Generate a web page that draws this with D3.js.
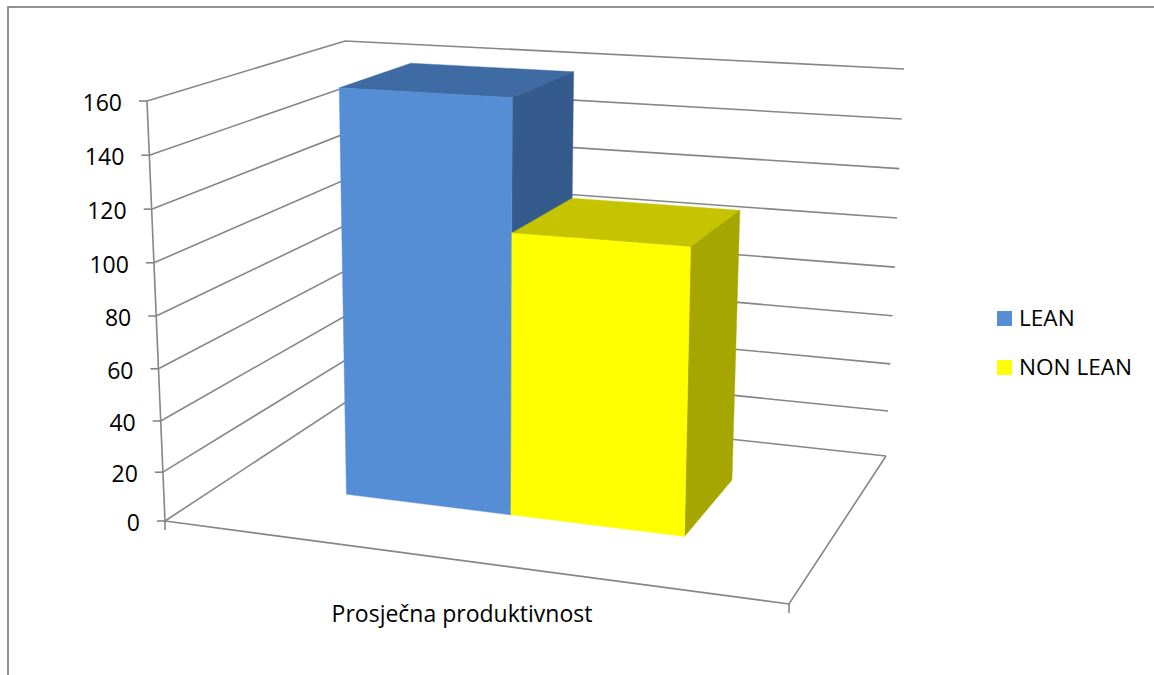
<!DOCTYPE html>
<html>
<head>
<meta charset="utf-8">
<script src="https://cdn.jsdelivr.net/npm/d3@7"></script>
<style>
  html, body { margin: 0; padding: 0; background: #fff; overflow: hidden; }
  text { font-family: "Open Sans", Lato, sans-serif; fill: #000; }
</style>
</head>
<body>
<svg id="chart" width="1154" height="675"></svg>
<script>
var categories = ["Prosječna produktivnost"];
var seriesNames = ["LEAN", "NON LEAN"];
var leanValues = [160];
var nonLeanValues = [109.5];
var valueTicks = [0, 20, 40, 60, 80, 100, 120, 140, 160];

var seriesColors = {
  "LEAN": {front: "#558ed5", top: "#3e6ba3", side: "#345b8b"},
  "NON LEAN": {front: "#ffff00", top: "#c6c300", side: "#a6a600"}
};

// corners of the 3d box on screen: front-left, front-right, back-right, back-left
var floorQuad = [[165, 521], [789, 604], [886, 456], [352, 398]];
var ceilQuad = [[147, 101], [801, 140], [904, 69], [345, 41]];

function squareToQuad(q) {
  var dx1 = q[1][0] - q[2][0], dx2 = q[3][0] - q[2][0], sx = q[0][0] - q[1][0] + q[2][0] - q[3][0],
  dy1 = q[1][1] - q[2][1], dy2 = q[3][1] - q[2][1], sy = q[0][1] - q[1][1] + q[2][1] - q[3][1],
  den = dx1 * dy2 - dx2 * dy1,
  g = (sx * dy2 - dx2 * sy) / den,
  h = (dx1 * sy - sx * dy1) / den,
  a = q[1][0] - q[0][0] + g * q[1][0],
  b = q[3][0] - q[0][0] + h * q[3][0],
  d = q[1][1] - q[0][1] + g * q[1][1],
  e = q[3][1] - q[0][1] + h * q[3][1];
  return function (u, v) {
    var w = g * u + h * v + 1;
    return [(a * u + b * v + q[0][0]) / w, (d * u + e * v + q[0][1]) / w];
  };
}

var floorAt = squareToQuad(floorQuad),
ceilAt = squareToQuad(ceilQuad);

// value goes up the box, slightly compressed low down because of the perspective
var y = d3.scalePow().exponent(1.035).domain([0, 160]).range([0, 1]);
var x = d3.scaleBand().domain(seriesNames).range([0.215, 0.785]);
var depth = [0.3, 0.7];

function project(u, v, value) {
  var p0 = floorAt(u, v), p1 = ceilAt(u, v), t = y(value);
  return [p0[0] + (p1[0] - p0[0]) * t, p0[1] + (p1[1] - p0[1]) * t];
}

var svg = d3.select("#chart");
var line = d3.line();
var gridColor = "#868686";
var gridWidth = 1.6;

// chart frame, only top and left fall inside the picture
svg.append("rect")
  .attr("x", 8)
  .attr("y", 7)
  .attr("width", 1300)
  .attr("height", 800)
  .attr("fill", "#fff")
  .attr("stroke", gridColor)
  .attr("stroke-width", 1.8);

// gridlines on left and back walls
svg.selectAll(".grid")
  .data(valueTicks)
  .enter().append("path")
  .attr("class", "grid")
  .attr("fill", "none")
  .attr("stroke", gridColor)
  .attr("stroke-width", gridWidth)
  .attr("d", function (d) {
    return line([project(0, 0, d), project(0, 1, d), project(1, 1, d)]);
  });

// floor edges
svg.append("path")
  .attr("fill", "none")
  .attr("stroke", gridColor)
  .attr("stroke-width", gridWidth)
  .attr("d", line([project(0, 0, 0), project(1, 0, 0), project(1, 1, 0)]));

// value axis
svg.append("path")
  .attr("fill", "none")
  .attr("stroke", gridColor)
  .attr("stroke-width", gridWidth)
  .attr("d", line([project(0, 0, 0), project(0, 0, 160)]));

svg.selectAll(".tick")
  .data(valueTicks)
  .enter().append("line")
  .attr("class", "tick")
  .attr("stroke", gridColor)
  .attr("stroke-width", gridWidth)
  .attr("x1", function (d) { return project(0, 0, d)[0] - 8; })
  .attr("x2", function (d) { return project(0, 0, d)[0]; })
  .attr("y1", function (d) { return project(0, 0, d)[1]; })
  .attr("y2", function (d) { return project(0, 0, d)[1]; });

svg.selectAll(".tickLabel")
  .data(valueTicks)
  .enter().append("text")
  .attr("class", "tickLabel")
  .attr("x", function (d) { return project(0, 0, d)[0] - 25; })
  .attr("y", function (d) { return project(0, 0, d)[1] + 10; })
  .attr("text-anchor", "end")
  .style("font-size", "23px")
  .text(function (d) { return d; });

// category axis ticks
[0, 1].forEach(function (u) {
  var p = project(u, 0, 0);
  svg.append("line")
    .attr("stroke", gridColor)
    .attr("stroke-width", gridWidth)
    .attr("x1", p[0])
    .attr("x2", p[0])
    .attr("y1", p[1])
    .attr("y2", p[1] + 9);
});

svg.append("text")
  .attr("x", 462)
  .attr("y", 622)
  .attr("text-anchor", "middle")
  .style("font-size", "23px")
  .text(categories[0]);

// bars, thin stroke in the face colour hides the seam between faces
function drawBar(name, value) {
  var u0 = x(name), u1 = x(name) + x.bandwidth(),
  v0 = depth[0], v1 = depth[1],
  c = seriesColors[name];

  var top = [project(u0, v0, value), project(u1, v0, value), project(u1, v1, value), project(u0, v1, value)];
  var side = [project(u1, v0, 0), project(u1, v1, 0), project(u1, v1, value), project(u1, v0, value)];
  var front = [project(u0, v0, 0), project(u1, v0, 0), project(u1, v0, value), project(u0, v0, value)];

  [[top, c.top], [side, c.side], [front, c.front]].forEach(function (f) {
    svg.append("path")
      .attr("d", line(f[0]) + "Z")
      .attr("fill", f[1])
      .attr("stroke", f[1])
      .attr("stroke-width", 0.4);
  });
}

drawBar("LEAN", leanValues[0]);
drawBar("NON LEAN", nonLeanValues[0]);

// legend
var legendY = d3.scalePoint().domain(seriesNames).range([318.5, 367.5]);

svg.selectAll(".swatch")
  .data(seriesNames)
  .enter().append("rect")
  .attr("class", "swatch")
  .attr("x", 997)
  .attr("y", function (d) { return legendY(d) - 7.5; })
  .attr("width", 15)
  .attr("height", 15)
  .attr("fill", function (d) { return seriesColors[d].front; });

svg.selectAll(".legendLabel")
  .data(seriesNames)
  .enter().append("text")
  .attr("class", "legendLabel")
  .attr("x", 1019)
  .attr("y", function (d) { return legendY(d) + 7.5; })
  .style("font-size", "22.6px")
  .text(function (d) { return d; });
</script>
</body>
</html>
